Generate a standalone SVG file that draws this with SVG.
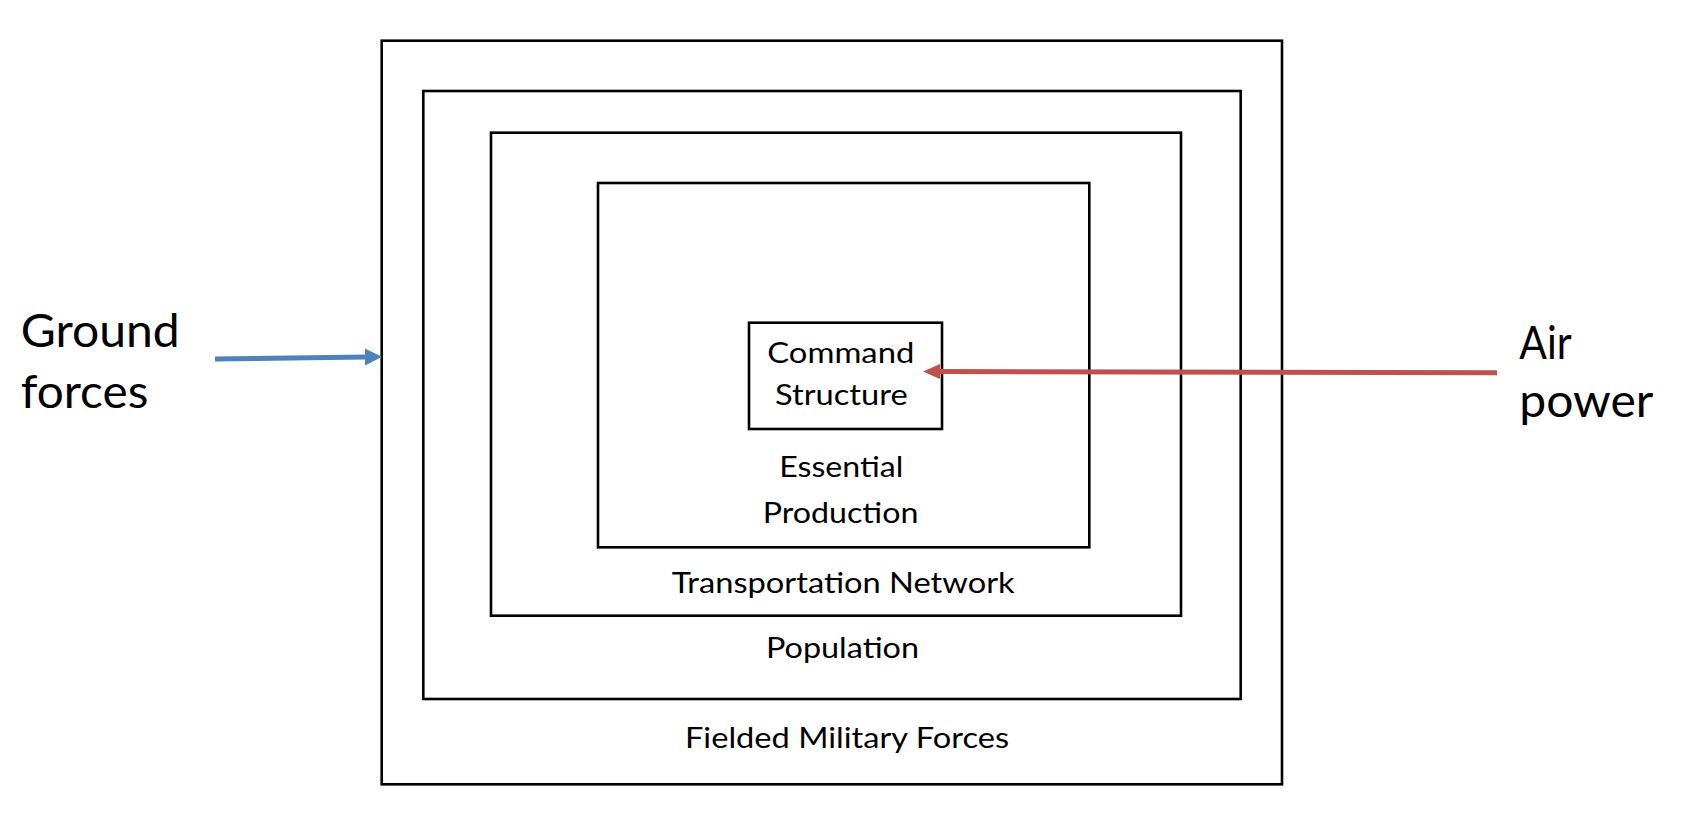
<svg xmlns="http://www.w3.org/2000/svg" width="1684" height="816" viewBox="0 0 1684 816">
<style>
.box{fill:none;stroke:#000;stroke-width:2.6}
.t{font-family:Lato,"Open Sans","Liberation Sans",sans-serif;fill:#000}
.m{font-size:29px}
.b{font-size:47px}
</style>
<defs>
<marker id="hb" markerUnits="userSpaceOnUse" markerWidth="20" markerHeight="20" refX="1" refY="9" orient="auto"><polygon points="0,0.5 17,9 0,17.5" fill="#4f81bd"/></marker>
<marker id="hr" markerUnits="userSpaceOnUse" markerWidth="20" markerHeight="20" refX="1" refY="9" orient="auto"><polygon points="0,1.5 17,9 0,16.5" fill="#c0504d"/></marker>
</defs>
<rect width="1684" height="816" fill="#fff"/>
<g id="fielded"><rect class="box" x="381.7" y="40.7" width="900.3" height="743.6"/>
<text class="t m" x="685" y="748.3" textLength="324" lengthAdjust="spacingAndGlyphs">Fielded Military Forces</text></g>
<g id="population"><rect class="box" x="423.3" y="91" width="817.4" height="608"/>
<text class="t m" x="766" y="658.3" textLength="153" lengthAdjust="spacingAndGlyphs">Population</text></g>
<g id="transport"><rect class="box" x="491" y="132.7" width="690" height="483"/>
<text class="t m" x="671.7" y="593.3" textLength="343" lengthAdjust="spacingAndGlyphs">Transportation Network</text></g>
<g id="production"><rect class="box" x="598" y="183" width="491.3" height="364.3"/>
<text class="t m" x="779.3" y="477.3" textLength="124" lengthAdjust="spacingAndGlyphs">Essential</text>
<text class="t m" x="762.7" y="522.7" textLength="155.7" lengthAdjust="spacingAndGlyphs">Production</text></g>
<g id="command"><rect class="box" x="749" y="322.7" width="193" height="106.3"/>
<text class="t m" x="767.3" y="363.3" textLength="147" lengthAdjust="spacingAndGlyphs">Command</text>
<text class="t m" x="775" y="405" textLength="132.7" lengthAdjust="spacingAndGlyphs">Structure</text></g>
<g id="ground"><text class="t b" x="20.7" y="346.7" textLength="159" lengthAdjust="spacingAndGlyphs">Ground</text>
<text class="t b" x="20.7" y="408.3" textLength="127.7" lengthAdjust="spacingAndGlyphs">forces</text></g>
<g id="air"><text class="t b" x="1519.3" y="359.3" textLength="52.3" lengthAdjust="spacingAndGlyphs">Air</text>
<text class="t b" x="1519.3" y="416.7" textLength="134" lengthAdjust="spacingAndGlyphs">power</text></g>
<g id="connectors">
<line x1="215" y1="359" x2="366" y2="356.9" stroke="#4f81bd" stroke-width="5" marker-end="url(#hb)"/>
<line x1="1497" y1="372.7" x2="939" y2="371.6" stroke="#c0504d" stroke-width="5" marker-end="url(#hr)"/>
</g>
</svg>
